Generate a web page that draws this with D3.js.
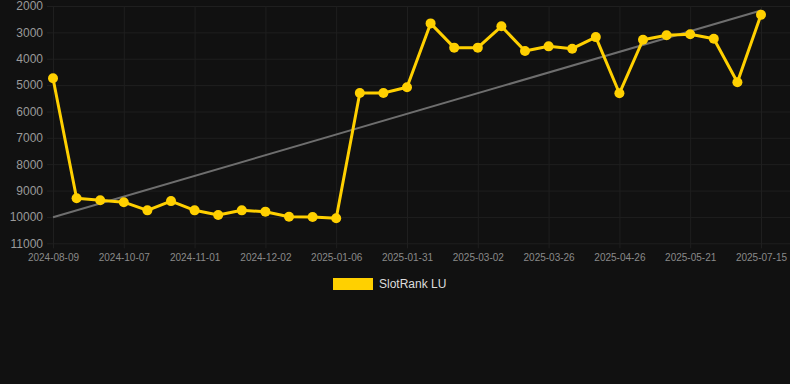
<!DOCTYPE html>
<html>
<head>
<meta charset="utf-8">
<script src="https://cdn.jsdelivr.net/npm/d3@7"></script>
<style>
  html, body { margin: 0; padding: 0; background: #111111; }
  svg { display: block; }
  text { font-family: "Liberation Sans", Arial, sans-serif; }
</style>
</head>
<body>
<svg id="chart" width="790" height="384"></svg>
<script>
// ---- data ----
const dates = [
  "2024-08-09","2024-08-29","2024-09-18","2024-10-07","2024-10-15","2024-10-23",
  "2024-11-01","2024-11-11","2024-11-21","2024-12-02","2024-12-14","2024-12-25",
  "2025-01-06","2025-01-14","2025-01-22","2025-01-31","2025-02-10","2025-02-20",
  "2025-03-02","2025-03-10","2025-03-18","2025-03-26","2025-04-05","2025-04-16",
  "2025-04-26","2025-05-04","2025-05-12","2025-05-21","2025-06-08","2025-06-26",
  "2025-07-15"
];
const ranks = [
  4740, 9290, 9370, 9440, 9750, 9400, 9750, 9930, 9750, 9800, 9990, 10000,
  10050, 5300, 5300, 5080, 2660, 3580, 3580, 2770, 3710, 3530, 3620, 3180,
  5310, 3280, 3110, 3070, 3240, 4890, 2330
];
const yTicks = [2000, 3000, 4000, 5000, 6000, 7000, 8000, 9000, 10000, 11000];
const seriesName = "SlotRank LU";

// ---- layout ----
const svg = d3.select("#chart");
const plotLeft = 53, plotRight = 761, plotTop = 6, plotBottom = 243.3;
const gridRight = 790;

const x = d3.scalePoint().domain(dates).range([plotLeft, plotRight]);
const y = d3.scaleLinear().domain([2000, 11000]).range([plotTop, plotBottom]);

const gridColor = "#1f1f1f";

// horizontal grid + y labels
const yAxis = d3.axisLeft(y).tickValues(yTicks).tickSize(-(gridRight - 47)).tickPadding(4).tickFormat(d3.format("d"));
const gy = svg.append("g").attr("transform", "translate(47,0)").call(yAxis);
gy.select(".domain").remove();
gy.selectAll(".tick line").attr("stroke", gridColor).attr("stroke-width", 1);
gy.selectAll(".tick text").attr("fill", "#9a9a9a").attr("font-size", 12).attr("x", -4);

// vertical grid + x labels (every third category)
const xTickVals = dates.filter((d, i) => i % 3 === 0);
const xAxis = d3.axisBottom(x).tickValues(xTickVals).tickSize(0).tickPadding(0);
const gx = svg.append("g").attr("transform", `translate(0,${plotBottom + 5})`).call(xAxis);
gx.select(".domain").remove();
gx.selectAll(".tick line").attr("stroke", gridColor).attr("stroke-width", 1).attr("y1", 0).attr("y2", -(plotBottom + 5 - plotTop));
gx.selectAll(".tick text").attr("fill", "#8a8a8a").attr("font-size", 10).attr("y", 6).attr("dy", "0.71em");

// trend line (least squares fit of rank vs index)
const n = ranks.length;
const mi = d3.mean(ranks, (d, i) => i);
const mv = d3.mean(ranks);
const slope = d3.sum(ranks, (d, i) => (i - mi) * (d - mv)) / d3.sum(ranks, (d, i) => (i - mi) * (i - mi));
const icpt = mv - slope * mi;
svg.append("line")
  .attr("x1", x(dates[0])).attr("y1", y(icpt))
  .attr("x2", x(dates[n - 1])).attr("y2", y(icpt + slope * (n - 1)))
  .attr("stroke", "#6e6e6e").attr("stroke-width", 2);

// series line
const color = "#FFD000";
svg.append("path")
  .datum(ranks)
  .attr("fill", "none")
  .attr("stroke", color)
  .attr("stroke-width", 3)
  .attr("stroke-linejoin", "round")
  .attr("d", d3.line().x((d, i) => x(dates[i])).y(d => y(d)));

svg.append("g").selectAll("circle")
  .data(ranks)
  .join("circle")
  .attr("cx", (d, i) => x(dates[i]))
  .attr("cy", d => y(d))
  .attr("r", 5)
  .attr("fill", color);

// legend
const lg = svg.append("g");
lg.append("rect").attr("x", 333).attr("y", 278).attr("width", 40).attr("height", 12).attr("fill", color);
lg.append("text").attr("x", 379).attr("y", 284).attr("dy", "0.35em")
  .attr("fill", "#dddddd").attr("font-size", 12).text(seriesName);
</script>
</body>
</html>
